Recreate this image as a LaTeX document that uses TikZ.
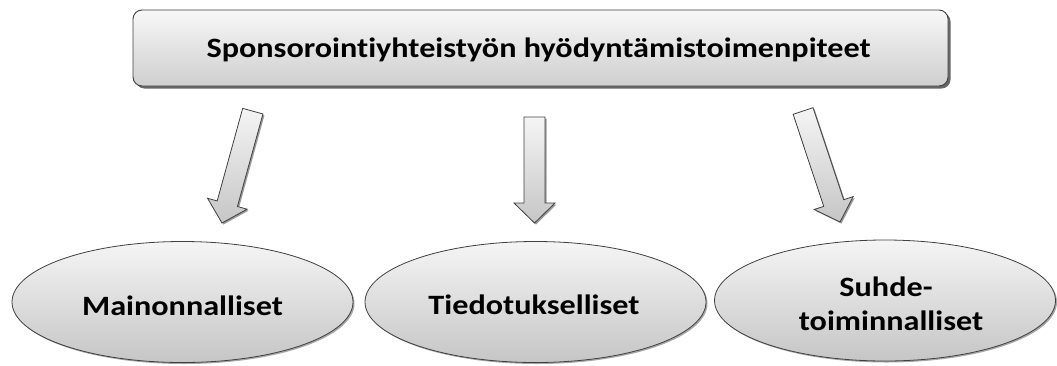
\documentclass[tikz,border=0pt]{standalone}
\usepackage{fontspec}
\setmainfont{Carlito}[RawFeature={-liga}]
\usetikzlibrary{shapes.geometric,shadows}
\definecolor{edgegray}{HTML}{404040}
\newcommand{\wide}[1]{\scalebox{1.15}[1]{#1}}
\tikzset{
  x=1pt, y=-1pt,
  topbox/.style={draw=edgegray, line width=0.9pt, rounded corners=9pt,
    top color=gray!6, bottom color=gray!38, minimum width=815pt, minimum height=76pt,
    inner sep=0pt,
    drop shadow={shadow xshift=2.5pt, shadow yshift=-2.5pt, fill=black, opacity=0.6}},
  oval/.style={ellipse, draw=edgegray, line width=0.8pt, top color=gray!8, bottom color=gray!45,
    minimum width=341pt, minimum height=121pt, inner sep=0pt,
    drop shadow={shadow xshift=1.5pt, shadow yshift=-1.5pt, fill=black, opacity=0.35}},
  labeltext/.style={font=\fontsize{28}{34}\selectfont\bfseries, inner sep=0pt, anchor=base},
  blockarrow/.style={draw=edgegray, line width=0.8pt, line join=miter,
    top color=gray!8, bottom color=gray!45,
    drop shadow={shadow xshift=1.5pt, shadow yshift=-1.5pt, fill=black, opacity=0.4}},
}
\begin{document}
\begin{tikzpicture}
\useasboundingbox (0,0) rectangle (1057,365);
% top box
\node[topbox] (top) at (540.5,48) {};
\node[labeltext] (toplabel) at (538.5,57.5) {\wide{Sponsorointiyhteistyön hyödyntämistoimenpiteet}};
% ellipses
\node[oval] (left) at (182.5,302) {};
\node[oval] (mid) at (535.5,302) {};
\node[oval] (right) at (885,300.5) {};
\node[labeltext] (leftlabel) at (182.5,315) {\wide{Mainonnalliset}};
\node[labeltext] (midlabel) at (534,314) {\wide{Tiedotukselliset}};
\node[labeltext] (rightlabel1) at (886,296) {\wide{Suhde-}};
\node[labeltext] (rightlabel2) at (891,330) {\wide{toiminnalliset}};
% arrow tips
\coordinate (tipL) at (222,223);
\coordinate (tipM) at (534.5,223);
\coordinate (tipR) at (840,222);
\foreach \tip/\ang/\len in {tipL/-15.4/116, tipM/0/106, tipR/18.4/117}{
  \begin{scope}[shift={(\tip)}, rotate=\ang]
    \path[blockarrow] (0,0) -- (-20.5,-20) -- (-10.5,-20) -- (-10.5,-\len) -- (10.5,-\len)
      -- (10.5,-20) -- (20.5,-20) -- cycle;
  \end{scope}
}
\end{tikzpicture}
\end{document}
